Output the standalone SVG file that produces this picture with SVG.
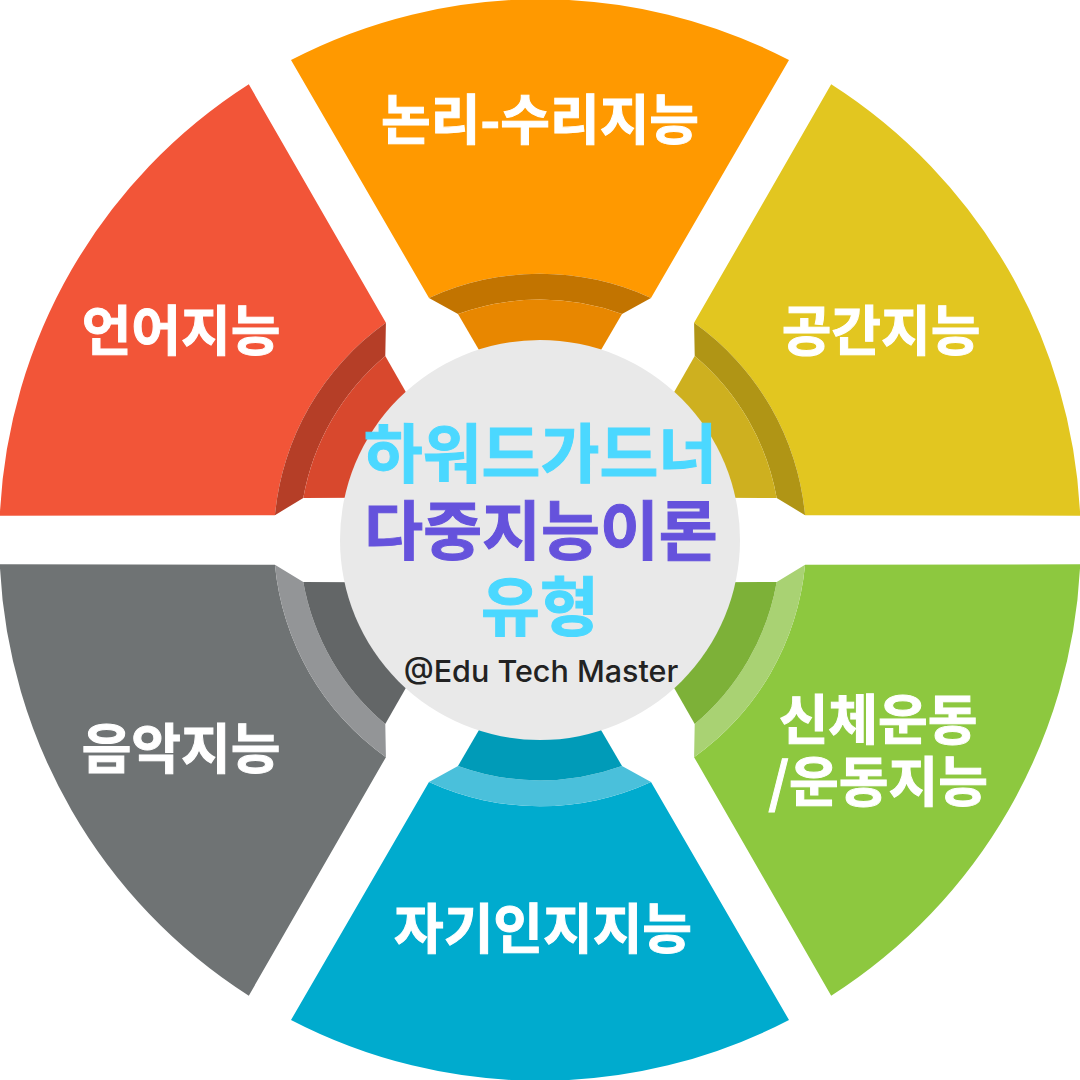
<svg xmlns="http://www.w3.org/2000/svg" width="1080" height="1080" viewBox="0 0 1080 1080">
<style>
text{font-family:"Noto Sans CJK KR","Noto Sans",sans-serif;font-weight:700;text-anchor:middle}
.l{fill:#fff;stroke:#fff;stroke-width:1;font-size:54px}
.c{fill:#4bd8ff;stroke:#4bd8ff;stroke-width:1;font-size:64px}
.p{fill:#6552dc;stroke:#6552dc;stroke-width:1;font-size:64px}
.m{fill:#222;font-size:30.500px;font-family:Inter,"Noto Sans",sans-serif;font-weight:500}
</style>
<defs>
<path id="s" d="M291,60A540.500,540.500 0 0 1 789,60L651,298A266,266 0 0 0 429,298Z"/>
<path id="b" d="M429,298A266,266 0 0 1 651,298L622,314A240.400,240.400 0 0 0 458,314Z"/>
<path id="i" d="M458,314A240.400,240.400 0 0 1 622,314L566,410H514Z"/>
</defs>
<rect width="1080" height="1080" fill="#fff"/>
<g id="node-logic"><use href="#s" fill="#ff9900"/><use href="#b" fill="#c27400"/><use href="#i" fill="#e88700"/><text class="l" x="540" y="140">논리-수리지능</text></g>
<g id="node-space"><g transform="rotate(60 540 540)"><use href="#s" fill="#e2c620"/><use href="#b" fill="#b09515"/><use href="#i" fill="#ceb01f"/></g><text class="l" x="881" y="351">공간지능</text></g>
<g id="node-body"><g transform="rotate(120 540 540)"><use href="#s" fill="#8dc83f"/><use href="#b" fill="#a9d273"/><use href="#i" fill="#7db138"/></g><text class="l" x="878" y="740">신체운동</text><text class="l" x="878" y="802">/운동지능</text></g>
<g id="node-self"><g transform="rotate(180 540 540)"><use href="#s" fill="#00abce"/><use href="#b" fill="#4ac0db"/><use href="#i" fill="#009bb8"/></g><text class="l" x="543" y="949">자기인지지능</text></g>
<g id="node-music"><g transform="rotate(240 540 540)"><use href="#s" fill="#6f7374"/><use href="#b" fill="#939597"/><use href="#i" fill="#636667"/></g><text class="l" x="181" y="769">음악지능</text></g>
<g id="node-language"><g transform="rotate(300 540 540)"><use href="#s" fill="#f25538"/><use href="#b" fill="#b53e27"/><use href="#i" fill="#d8482d"/></g><text class="l" x="181" y="351">언어지능</text></g>
<g id="node-center"><circle cx="540" cy="540" r="200" fill="#e9e9e9"/>
<text class="c" x="540.500" y="477">하워드가드너</text>
<text class="p" x="541" y="554">다중지능이론</text>
<text class="c" x="540" y="630">유형</text>
<text class="m" x="541" y="682">@Edu Tech Master</text></g>
<g id="connectors"/>
</svg>
